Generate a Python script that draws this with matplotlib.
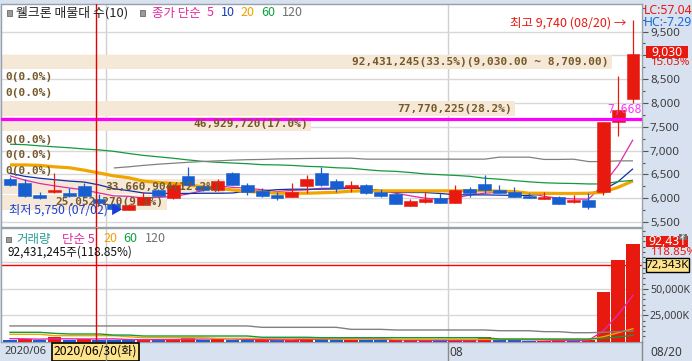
import datetime as dt
import numpy as np
import matplotlib
matplotlib.use("Agg")
import matplotlib.pyplot as plt
from matplotlib.patches import Rectangle
from matplotlib import transforms as mtrans
from matplotlib.ticker import FixedLocator, FuncFormatter

KR = ['Noto Sans CJK KR', 'DejaVu Sans']
MONO = ['DejaVu Sans Mono', 'Noto Sans CJK KR']
AXF = ['Noto Sans', 'DejaVu Sans']
plt.rcParams['font.family'] = KR
plt.rcParams['axes.unicode_minus'] = False

# ------------------------------------------------------------------ data
stock_name = "웰크론"
profile_count = 10
dates = ["2020/06/22", "2020/06/23", "2020/06/24", "2020/06/25", "2020/06/26",
         "2020/06/29", "2020/06/30",
         "2020/07/01", "2020/07/02", "2020/07/03", "2020/07/06", "2020/07/07",
         "2020/07/08", "2020/07/09", "2020/07/10", "2020/07/13", "2020/07/14",
         "2020/07/15", "2020/07/16", "2020/07/17", "2020/07/20", "2020/07/21",
         "2020/07/22", "2020/07/23", "2020/07/24", "2020/07/27", "2020/07/28",
         "2020/07/29", "2020/07/30", "2020/07/31",
         "2020/08/03", "2020/08/04", "2020/08/05", "2020/08/06", "2020/08/07",
         "2020/08/10", "2020/08/11", "2020/08/12", "2020/08/13", "2020/08/14",
         "2020/08/18", "2020/08/19", "2020/08/20"]
opens = [6410, 6330, 6070, 6140, 6120, 6260, 5990, 5880, 5760, 5860, 6170, 6000,
         6470, 6250, 6180, 6540, 6280, 6150, 6070, 6030, 6260, 6540, 6370, 6210,
         6280, 6140, 6090, 5840, 5920, 6010, 5910, 6200, 6300, 6180, 6130, 6050,
         5990, 6030, 5930, 5960, 6130, 7600, 8080]
highs = [6450, 6400, 6140, 6520, 6210, 6320, 6080, 5900, 5870, 6140, 6190, 6300,
         6650, 6280, 6400, 6550, 6330, 6210, 6140, 6330, 6480, 6650, 6400, 6360,
         6290, 6190, 6100, 5990, 6130, 6100, 6280, 6240, 6490, 6280, 6240, 6120,
         6130, 6040, 6070, 6100, 7610, 8560, 9740]
lows = [6260, 6020, 5990, 6120, 6020, 6030, 5880, 5770, 5750, 5850, 6040, 5990,
        6270, 6150, 6160, 6270, 6070, 6020, 5960, 6030, 6120, 6260, 6140, 6140,
        6090, 6020, 5870, 5830, 5890, 5900, 5900, 6030, 6120, 6100, 6030, 6010,
        5980, 5870, 5910, 5770, 6070, 7300, 8000]
closes = [6280, 6040, 6000, 6180, 6050, 6040, 5900, 5780, 5860, 6030, 6050, 6280,
          6280, 6170, 6360, 6280, 6130, 6050, 6010, 6140, 6400, 6280, 6210, 6280,
          6120, 6050, 5880, 5940, 5980, 5910, 6170, 6110, 6180, 6110, 6030, 6010,
          6030, 5870, 5970, 5820, 7610, 7850, 9030]
volumes = [2004000, 2210000, 1402000, 4815000, 1906000, 2302000, 2010000, 1804000,
           1203000, 2206000, 1905000, 2712000, 3811000, 1903000, 2204000, 2008000,
           1802000, 1853000, 1204000, 1602000, 3806000, 3610000, 1505000, 2003000,
           1502000, 1204000, 1352000, 1503000, 1604000, 1202000, 1353000, 1604000,
           4305000, 1502000, 1203000, 951000, 1102000, 1354000, 952000, 1353000,
           46929720, 77770225, 92431245]
ma5 = [6470, 6380, 6310, 6260, 6215, 6175, 6110, 6050, 6040, 6000, 6020, 6035,
       6090, 6160, 6260, 6230, 6210, 6180, 6140, 6165, 6175, 6210, 6210, 6245,
       6200, 6155, 6105, 6050, 6000, 5980, 6000, 6070, 6105, 6125, 6125, 6110,
       6040, 6000, 5985, 5980, 6290, 6690, 7230]
ma10 = [6525, 6460, 6420, 6390, 6360, 6340, 6280, 6200, 6160, 6110, 6100, 6100,
        6100, 6105, 6105, 6110, 6150, 6155, 6180, 6190, 6190, 6190, 6195, 6210,
        6200, 6160, 6120, 6120, 6120, 6100, 6075, 6070, 6070, 6065, 6060, 6060,
        6090, 6100, 6100, 6095, 6175, 6350, 6620]
ma20 = [6700, 6700, 6690, 6660, 6640, 6590, 6530, 6470, 6430, 6360, 6330, 6310,
        6280, 6240, 6210, 6175, 6140, 6130, 6105, 6105, 6105, 6115, 6125, 6150,
        6155, 6155, 6155, 6155, 6155, 6155, 6155, 6155, 6155, 6150, 6140, 6105,
        6105, 6100, 6100, 6105, 6125, 6230, 6365]
ma60 = [7135, 7125, 7100, 7080, 7060, 7035, 7015, 6985, 6940, 6900, 6870, 6840,
        6805, 6775, 6755, 6740, 6725, 6705, 6700, 6690, 6670, 6660, 6640, 6630,
        6600, 6575, 6565, 6540, 6510, 6495, 6480, 6460, 6420, 6400, 6370, 6345,
        6325, 6315, 6310, 6300, 6300, 6350, 6375]
ma120 = [None, None, None, None, None, None, None,
         6636, 6660, 6690, 6715, 6735, 6755, 6772, 6785, 6800, 6810, 6815, 6825,
         6830, 6835, 6838, 6840, 6842, 6821, 6821, 6821, 6821, 6821, 6821, 6821,
         6821, 6821, 6863, 6863, 6863, 6815, 6815, 6820, 6770, 6770, 6785, 6785]
vol_ma5 = [2.9, 2.7, 2.4, 2.8, 2.7, 2.6, 2.6, 2.7, 2.0, 1.9, 1.9, 2.0, 2.3, 2.5,
           2.6, 2.6, 2.2, 1.9, 1.8, 1.7, 2.1, 2.5, 2.5, 2.6, 2.6, 2.4, 1.7, 1.5,
           1.4, 1.4, 1.4, 1.5, 2.0, 2.0, 2.0, 1.8, 1.7, 1.2, 1.1, 1.2, 10.3, 25.7, 43.9]
vol_ma20 = [7.0, 7.0, 7.0, 5.7, 5.7, 5.7, 5.7, 5.7, 4.7, 3.8, 3.8, 3.8, 3.8, 3.8,
            3.2, 3.2, 3.2, 3.2, 3.2, 3.2, 3.2, 2.8, 2.8, 2.8, 2.8, 2.8, 2.3, 2.3,
            2.3, 2.3, 2.3, 2.3, 2.3, 2.3, 2.3, 2.3, 2.3, 2.3, 2.3, 2.3, 4.7, 8.5, 12.3]
vol_ma60 = [8.9, 8.9, 8.9, 7.9, 7.3, 7.3, 7.3, 6.3, 6.3, 5.4, 5.4, 5.4, 5.4, 5.4,
            5.4, 5.4, 5.4, 4.2, 4.2, 4.2, 4.2, 3.8, 3.8, 3.8, 3.8, 3.8, 3.8, 3.8,
            3.8, 3.8, 3.8, 3.8, 3.8, 2.5, 2.5, 2.5, 2.5, 2.5, 2.5, 2.5, 3.2, 4.5, 6.0]
vol_ma120 = [14.9, 14.9, 14.9, 14.9, 14.9, 14.9, 14.9, 14.9, 14.9, 14.9, 14.9, 14.9,
             14.9, 14.9, 14.9, 14.9, 14.9, 13.6, 13.6, 13.6, 13.6, 13.6, 13.6, 11.7,
             11.7, 11.7, 11.1, 11.1, 11.1, 11.1, 11.1, 11.1, 11.1, 10.4, 10.4, 10.4,
             9.5, 9.5, 8.5, 8.5, 8.9, 9.5, 10.2]
profile_volumes = [25052270, 33660904, 0, 0, 0, 46929720, 77770225, 0, 0, 92431245]
profile_range = [5750, 9030]
top_band_range = [9030.00, 8709.00]
marker_price = 7668
cross_volume_k = 72343
lc_value = 57.04
hc_value = -7.29
price_ticks = [5500, 6000, 6500, 7000, 7500, 8000, 8500, 9000, 9500]
vol_ticks = [25, 50, 75]          # millions of shares
ma_periods = [5, 10, 20, 60, 120]
cross_index = 6

# ------------------------------------------------------------------ style
RED = '#e8190f'
BLUE = '#175fd0'
C_MA = ['#e02aa8', '#0f2fa8', '#f0a500', '#129a3c', '#808080']
C_TXT_MA = ['#e0289c', '#1a3cb4', '#f0a000', '#10a040', '#707070']
BEIGE = '#f5e8d7'
BROWN = '#76592a'
PANEL = '#d7e1ef'

W, H = 692, 361
fig = plt.figure(figsize=(W / 100, H / 100), dpi=100, facecolor=PANEL)


def frect(x0, y0, x1, y1):
    return [x0 / W, 1 - y1 / H, (x1 - x0) / W, (y1 - y0) / H]


PX0, PX1 = 1.5, 642
ax_p = fig.add_axes(frect(PX0, 3.5, PX1, 227))
ax_v = fig.add_axes(frect(PX0, 228, PX1, 342))

step = 14.833
c0 = 10.0
xlim = ((PX0 - c0) / step, (PX1 - c0) / step)
n = len(closes)
idx = np.arange(n)

for ax, lsz in ((ax_p, 8.3), (ax_v, 7.7)):
    ax.set_xlim(*xlim)
    ax.set_facecolor('white')
    ax.set_axisbelow(True)
    for s in ax.spines.values():
        s.set_color('#98a0aa')
        s.set_linewidth(1.0)
    ax.tick_params(axis='x', bottom=False, labelbottom=False)
    ax.yaxis.tick_right()
    ax.tick_params(axis='y', which='major', direction='out', length=4.5, width=0.8,
                   color='#555555', pad=1.2, labelsize=lsz, labelcolor='#3c3c3c',
                   labelfontfamily='Noto Sans')
    ax.tick_params(axis='y', which='minor', direction='out', length=2.5, width=0.8,
                   color='#555555')

ax_p.set_ylim(5396, 10090)
ax_v.set_ylim(-0.28, 107.6)

ax_p.yaxis.set_major_locator(FixedLocator(price_ticks))
ax_p.yaxis.set_minor_locator(FixedLocator(np.arange(5250, 10001, 250)))
ax_p.yaxis.set_major_formatter(FuncFormatter(lambda v, p: f"{int(v):,}"))
ax_p.grid(axis='y', color='#d8d8d8', lw=1.0)

ax_v.yaxis.set_major_locator(FixedLocator(vol_ticks))
ax_v.yaxis.set_minor_locator(FixedLocator(np.arange(5, 106, 5)))
ax_v.yaxis.set_major_formatter(FuncFormatter(lambda v, p: f"{int(v * 1000):,}K"))
ax_v.grid(axis='y', color='#d8d8d8', lw=1.0)

# month boundaries
month_starts = [i for i in range(1, n) if dates[i][:7] != dates[i - 1][:7]]
for ax in (ax_p, ax_v):
    for i in month_starts:
        ax.axvline(i - 0.5, color='#d0d0d0', lw=1.0, zorder=0.5)

# ---------------- volume profile (매물대)
edges = np.linspace(profile_range[0], profile_range[1], len(profile_volumes) + 1)
total = sum(profile_volumes)
vmax = max(profile_volumes)
full = (xlim[1] - xlim[0]) * 0.953
gap = 12
last_band = int(np.searchsorted(edges, closes[-1], side='left')) - 1
last_band = min(max(last_band, 0), len(profile_volumes) - 1)
blend = mtrans.blended_transform_factory(ax_p.transAxes, ax_p.transData)
for k, v in enumerate(profile_volumes):
    lo, hi = edges[k], edges[k + 1]
    mid = (lo + hi) / 2
    if v > 0:
        w = v / vmax * full
        ax_p.add_patch(Rectangle((xlim[0], lo + gap), w, hi - lo - 2 * gap,
                                 facecolor=BEIGE, edgecolor='none', zorder=1))
        lab = f"{v:,}({v / total * 100:.1f}%)"
        if k == last_band:
            lab += f"({top_band_range[0]:,.2f} ~ {top_band_range[1]:,.2f})"
        ax_p.text(xlim[0] + w - 0.24, mid, lab, ha='right', va='center',
                  fontsize=8, family=MONO, color=BROWN, fontweight='bold', zorder=7)
    else:
        ax_p.text(0.0055, mid, "0(0.0%)", transform=blend, ha='left', va='center',
                  fontsize=8, family=MONO, color=BROWN, fontweight='bold', zorder=7)

# ---------------- moving averages (price)
ma_lists = [ma5, ma10, ma20, ma60, ma120]
for vals, col, per in zip(ma_lists, C_MA, ma_periods):
    arr = np.array([np.nan if v is None else v for v in vals], dtype=float)
    lw = 2.3 if per == 20 else 0.9
    ax_p.plot(idx, arr, color=col, lw=lw, zorder=3, solid_capstyle='butt')

# ---------------- candles
for i in idx:
    col = RED if closes[i] >= opens[i] else BLUE
    ax_p.vlines(i, lows[i], highs[i], color=col, lw=0.9, zorder=4)
    lo, hi = sorted((opens[i], closes[i]))
    ax_p.add_patch(Rectangle((i - 0.43, lo), 0.86, max(hi - lo, 30),
                             facecolor=col, edgecolor=col, lw=0.4, zorder=4))

# marker line
ax_p.axhline(marker_price, color='#ff00ff', lw=2.3, zorder=5)
ax_p.text(xlim[1] - 0.05, marker_price + 55, f"{marker_price:,}", ha='right',
          va='bottom', fontsize=8.3, family=MONO, color='#ff33ff', zorder=7)

# high / low annotations
imax = int(np.argmax(highs))
imin = int(np.argmin(lows))
ax_p.text(imax - 0.45, highs[imax] - 70,
          f"최고 {highs[imax]:,} ({dates[imax][5:]}) →",
          ha='right', va='center', fontsize=9, color=RED, zorder=7)
ax_p.text(imin - 0.42, lows[imin],
          f"최저 {lows[imin]:,} ({dates[imin][5:]}) ▶",
          ha='right', va='center', fontsize=8.8, color='#1a3cd8', zorder=7)

# ---------------- volume bars
vol_m = np.array(volumes) / 1e6
vcols = [BLUE] + [RED if volumes[i] >= volumes[i - 1] else BLUE for i in range(1, n)]
ax_v.axhline(cross_volume_k / 1000, color='#ff0000', lw=1.0, zorder=2)
ax_v.bar(idx, vol_m, width=0.9, color=vcols, zorder=3)
for vals, col in zip([vol_ma5, vol_ma20, vol_ma60, vol_ma120],
                     [C_MA[0], C_MA[2], C_MA[3], C_MA[4]]):
    ax_v.plot(idx, vals, color=col, lw=1.0, zorder=4)

# crosshair
cross_x = cross_index - 0.22
for ax in (ax_p, ax_v):
    ax.axvline(cross_x, color='#e80000', lw=1.0, zorder=8)

# ---------------- overlay (pixel coordinates)
ov = fig.add_axes([0, 0, 1, 1], zorder=10)
ov.set_xlim(0, W)
ov.set_ylim(H, 0)
ov.axis('off')
ov.patch.set_alpha(0)


def py(ax, val):
    return H - ax.transData.transform((0, val))[1]


def icon(x, y):
    ov.add_patch(Rectangle((x, y), 5, 5.5, facecolor='#9a9a9a', edgecolor='#6a6a6a', lw=0.6))


# title row
icon(6.5, 10)
ov.text(16.5, 13, f"{stock_name} 매물대 수({profile_count})", fontsize=9.3,
        color='#222222', va='center', ha='left')
icon(140, 10)
ov.text(151.5, 13, "종가 단순", fontsize=9, color=C_TXT_MA[0], va='center')
for xx, per, col in zip([207, 221, 240.5, 261.5, 281.5], ma_periods, C_TXT_MA):
    ov.text(xx, 13, str(per), fontsize=9, color=col, va='center')

# volume legend
icon(6, 236.5)
ov.text(16.5, 239, "거래량", fontsize=9, color='#2b9c9c', va='center')
ov.text(61.5, 239, "단순 5", fontsize=9, color=C_TXT_MA[0], va='center')
for xx, per, col in zip([103, 123.5, 145], ma_periods[2:], C_TXT_MA[2:]):
    ov.text(xx, 239, str(per), fontsize=9, color=col, va='center')
vol_chg = volumes[-1] / volumes[-2] * 100
ov.text(7, 252, f"{volumes[-1]:,}주({vol_chg:.2f}%)", fontsize=8.5, color='#111111',
        va='center')

# right panel labels
ov.text(643.5, 10.8, f"LC:{lc_value:.2f}", fontsize=8.8, color=RED, va='center',
        family=AXF)
ov.text(643.5, 22.3, f"HC:{hc_value:.2f}", fontsize=8.8, color='#1a6ad8', va='center',
        family=AXF)
yc = py(ax_p, closes[-1]) - 1.5
ov.add_patch(Rectangle((646, yc - 6), 42, 12, facecolor=RED, edgecolor='none'))
ov.text(667, yc, f"{closes[-1]:,}", fontsize=8.8, color='white', ha='center',
        va='center', family=AXF)
chg = (closes[-1] / closes[-2] - 1) * 100
ov.text(651, yc + 10, f"{chg:.2f}%", fontsize=8.3, color=RED, va='center', family=AXF)

yv = py(ax_v, vol_m[-1]) - 2.3
ov.add_patch(Rectangle((646, yv - 5.5), 42, 11, facecolor=RED, edgecolor='none'))
ov.text(667, yv, f"{volumes[-1] // 1000:,}", fontsize=8.8, color='white', ha='center',
        va='center', family=AXF)
ov.text(651, yv + 11, f"{vol_chg:.2f}%", fontsize=8.3, color=RED, va='center', family=AXF)
yx = py(ax_v, cross_volume_k / 1000)
ov.add_patch(Rectangle((645.5, yx - 7), 43, 14, facecolor='#ffe38a', edgecolor='black',
                       lw=1.0))
ov.text(667, yx, f"{cross_volume_k:,}K", fontsize=8.3, color='black', ha='center',
        va='center', family=AXF)
ov.add_patch(Rectangle((678.5, 233.5), 8.5, 6.5, facecolor='#6e6e6e', edgecolor='none'))
ov.text(682.7, 236.7, "×", fontsize=5.5, color='white', ha='center', va='center',
        family=AXF)

# date axis
ov.text(4, 352, dates[0][:7], fontsize=8, color='#3a3a3a', va='center', family=AXF)
for i in month_starts:
    xm = c0 + (i - 0.5) * step
    ov.plot([xm, xm], [342, 361], color='#8a8a8a', lw=1.0)
    if i != month_starts[0]:
        ov.text(xm + 2, 352, dates[i][5:7], fontsize=8.5, color='#3a3a3a',
                va='center', family=AXF)
ov.plot([PX1, PX1], [342, 361], color='#8a8a8a', lw=1.0)
ov.text(666, 352, dates[-1][5:], fontsize=8.5, color='#3a3a3a', va='center',
        ha='center', family=AXF)
days_kr = "월화수목금토일"
dcross = dt.datetime.strptime(dates[cross_index], "%Y/%m/%d")
cross_label = f"{dates[cross_index]}({days_kr[dcross.weekday()]})"
cx = c0 + cross_x * step
ov.add_patch(Rectangle((cx - 44, 342.5), 87, 18, facecolor='#ffe38a', edgecolor='black',
                       lw=1.2))
ov.text(cx - 0.5, 351.5, cross_label, fontsize=8.8, color='black', ha='center',
        va='center')

fig.savefig("out.png", dpi=100, facecolor=fig.get_facecolor())
